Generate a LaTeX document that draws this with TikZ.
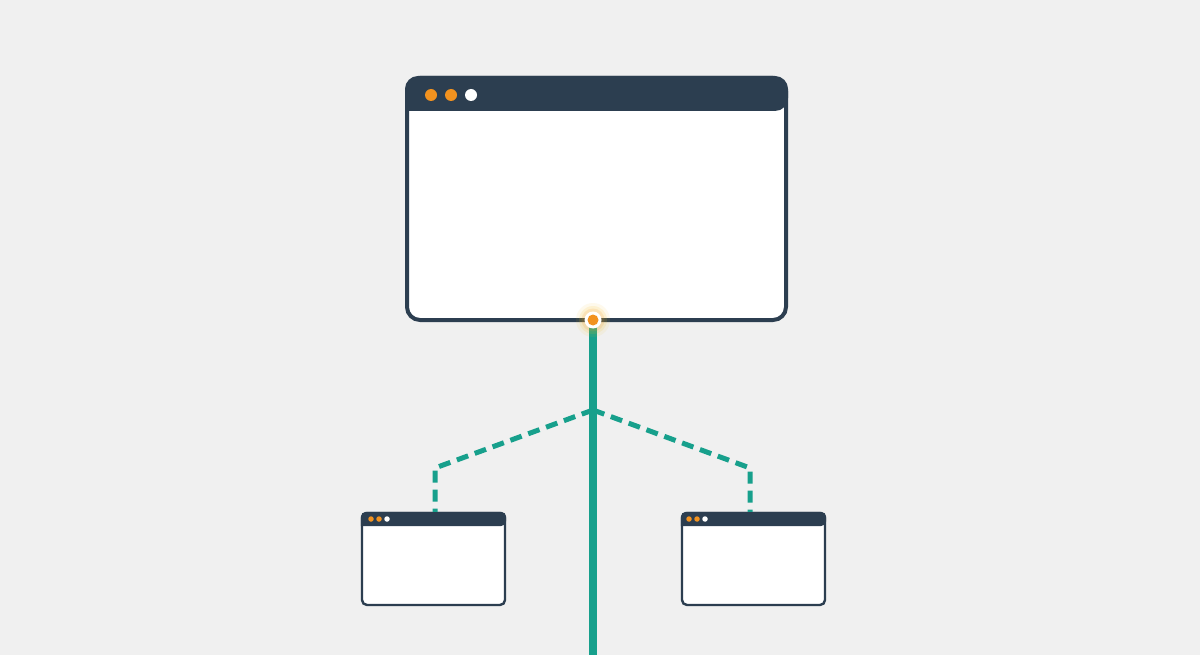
\documentclass[tikz,border=0pt]{standalone}
\usetikzlibrary{calc}
\definecolor{bg}{HTML}{F0F0F0}
\definecolor{frame}{HTML}{2C3E50}
\definecolor{teal}{HTML}{17A08C}
\definecolor{dotor}{HTML}{F2921F}
\tikzset{
  win/.style={draw=frame, fill=white, rounded corners=#1, line width=4pt, inner sep=0pt},
  bigwin/.style={win=13pt, minimum width=379pt, minimum height=242pt},
  smallwin/.style={win=5pt, line width=2.4pt, minimum width=143pt, minimum height=92pt},
  orangedot/.style={circle, fill=dotor, inner sep=0pt, minimum size=#1},
  whitedot/.style={circle, fill=white, inner sep=0pt, minimum size=#1},
  tealline/.style={draw=teal, line width=7.5pt},
  dashline/.style={draw=teal, line width=5pt, dash pattern=on 12pt off 7pt},
}
\begin{document}
\begin{tikzpicture}[x=1pt,y=-1pt]
\fill[bg] (0,0) rectangle (1200,655);
\useasboundingbox (0,0) rectangle (1200,655);
% big window
\node[bigwin] (big) at (596.5,199) {};
\fill[frame, rounded corners=13pt] (big.west |- 0,111) |- (big.north) -| (big.east |- 0,111) [sharp corners] -- cycle;
\node[orangedot=12pt] (bd1) at (431,95) {};
\node[orangedot=12pt] (bd2) at (451,95) {};
\node[whitedot=12pt] (bd3) at (471,95) {};
% small windows
\node[smallwin] (sl) at (433.5,559) {};
\fill[frame, rounded corners=5pt] (sl.west |- 0,526) |- (sl.north) -| (sl.east |- 0,526) [sharp corners] -- cycle;
\node[orangedot=5.5pt] (sl1) at (371,519) {};
\node[orangedot=5.5pt] (sl2) at (379,519) {};
\node[whitedot=5.5pt] (sl3) at (387,519) {};
\node[smallwin] (sr) at (753.5,559) {};
\fill[frame, rounded corners=5pt] (sr.west |- 0,526) |- (sr.north) -| (sr.east |- 0,526) [sharp corners] -- cycle;
\node[orangedot=5.5pt] (sr1) at (689,519) {};
\node[orangedot=5.5pt] (sr2) at (697,519) {};
\node[whitedot=5.5pt] (sr3) at (705,519) {};
% connectors
\coordinate (hub) at (593,320);
\coordinate (bottom) at (593,660);
\coordinate (split) at (593,410);
\coordinate (lk) at (435,468);
\coordinate (rk) at (750,468);
\draw[dashline, line join=miter] (split) -- (lk) -- (lk |- sl.north);
\draw[dashline, line join=miter] (split) -- (rk) -- (rk |- sr.north);
\draw[tealline] (hub) -- (bottom);
% glowing hub
\fill[dotor!60!yellow, opacity=0.08] (hub) circle (17pt);
\fill[dotor!60!yellow, opacity=0.12] (hub) circle (14pt);
\fill[dotor, opacity=0.15] (hub) circle (11.5pt);
\node[circle, fill=white, inner sep=0pt, minimum size=17pt] (hubring) at (hub) {};
\node[orangedot=11pt] (hubdot) at (hub) {};
\end{tikzpicture}
\end{document}
